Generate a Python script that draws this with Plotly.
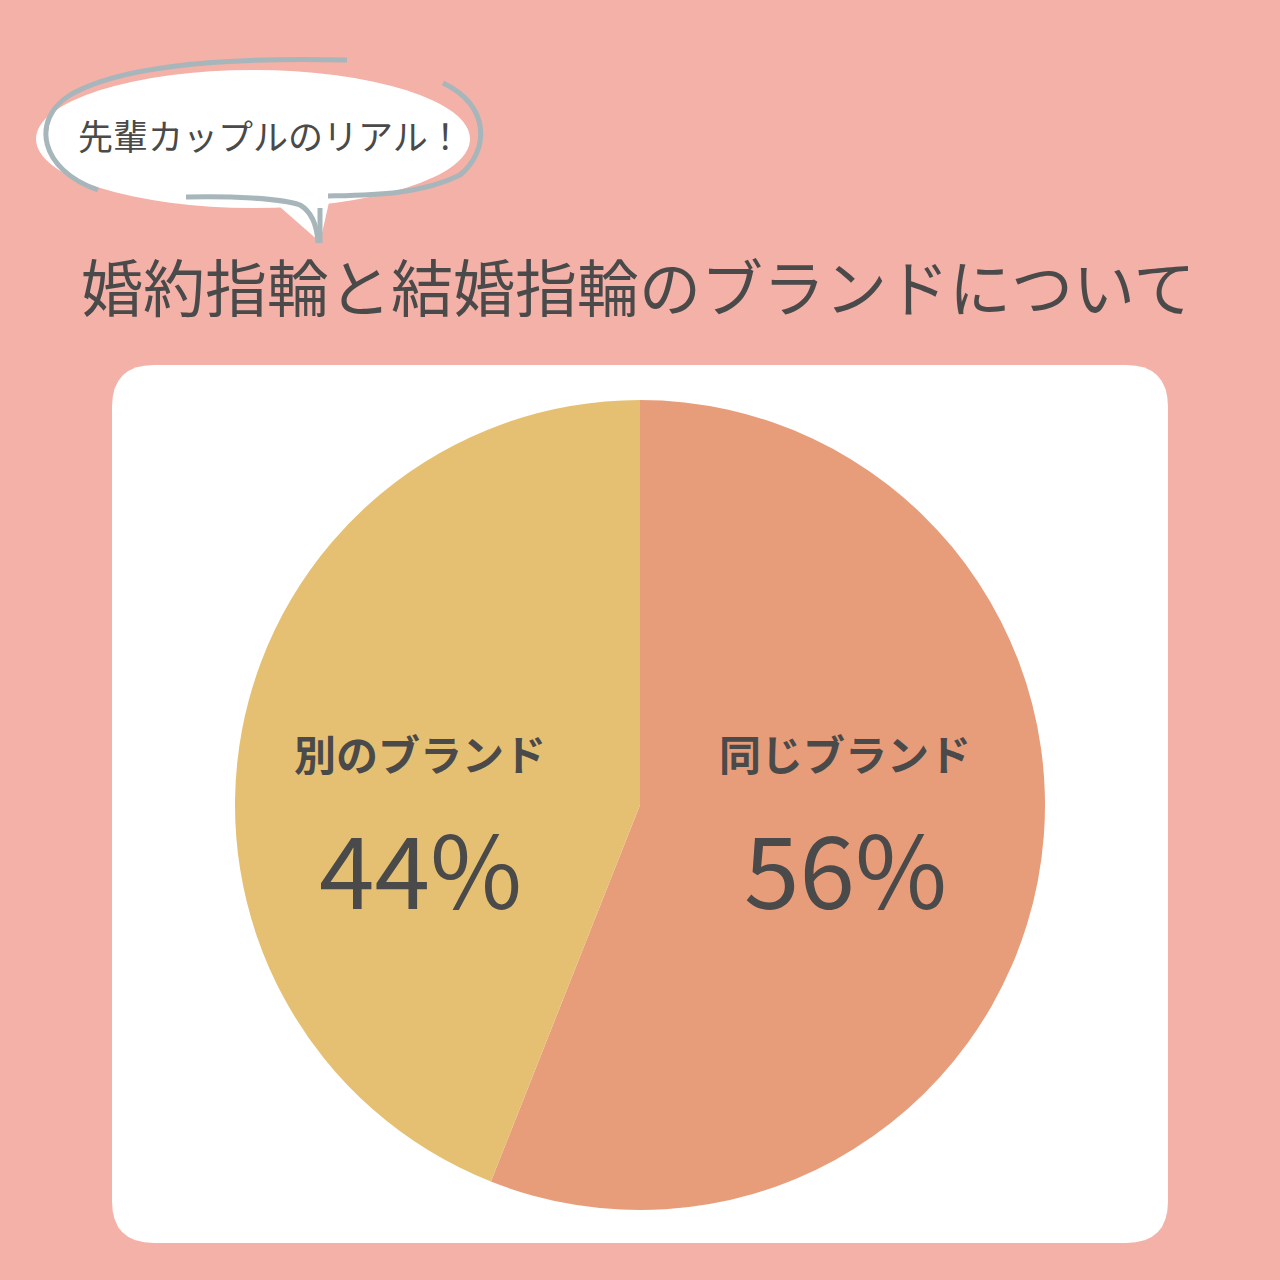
import plotly.graph_objects as go

# ---- data ----
labels = ["同じブランド", "別のブランド"]
values = [56, 44]
colors = ["#E89D7A", "#E6C072"]
title_text = "婚約指輪と結婚指輪のブランドについて"
bubble_text = "先輩カップルのリアル！"

W = H = 1280
BG = "#F3B1A8"
TXT = "#4A4A4A"
FONT = "Noto Sans CJK JP"


def px(x):
    return x / W


def py(y):
    return 1 - y / H


def path(cmds):
    out = []
    for c in cmds:
        if isinstance(c, str):
            out.append(c)
        else:
            out.append(f"{px(c[0]):.5f},{py(c[1]):.5f}")
    return " ".join(out)


fig = go.Figure()

# pie centred at (640, 805) with radius 405 px
cx, cy, r = 640, 805, 405
fig.add_trace(go.Pie(
    labels=labels,
    values=values,
    sort=False,
    direction="clockwise",
    rotation=0,
    marker=dict(colors=colors, line=dict(width=0)),
    textinfo="none",
    hoverinfo="label+percent",
    showlegend=False,
    domain=dict(x=[px(cx - r), px(cx + r)], y=[py(cy + r), py(cy - r)]),
))

shapes = []
# white rounded card
x0, y0, x1, y1, rr = 112, 365, 1168, 1243, 42
card = path([
    "M", (x0 + rr, y0), "L", (x1 - rr, y0), "Q", (x1, y0), (x1, y0 + rr),
    "L", (x1, y1 - rr), "Q", (x1, y1), (x1 - rr, y1),
    "L", (x0 + rr, y1), "Q", (x0, y1), (x0, y1 - rr),
    "L", (x0, y0 + rr), "Q", (x0, y0), (x0 + rr, y0), "Z"])
shapes.append(dict(type="path", xref="paper", yref="paper", path=card,
                   fillcolor="white", line=dict(width=0), layer="below"))

# speech bubble fill
shapes.append(dict(type="circle", xref="paper", yref="paper",
                   x0=px(36), x1=px(470), y0=py(208), y1=py(70),
                   fillcolor="white", line=dict(width=0), layer="below"))
tail = path(["M", (272, 200), "L", (330, 198), "L", (320, 242), "Z"])
shapes.append(dict(type="path", xref="paper", yref="paper", path=tail,
                   fillcolor="white", line=dict(width=0), layer="below"))

# sketchy gray outline strokes
GRAY = "#A7B6BB"
strokes = [
    ["M", (98, 190), "C", (40, 170), (30, 120), (70, 95),
     "C", (130, 60), (260, 58), (347, 60)],
    ["M", (443, 83), "C", (490, 105), (490, 150), (460, 175),
     "C", (420, 195), (370, 195), (328, 196)],
    ["M", (186, 197), "C", (230, 196), (280, 198), (300, 205),
     "C", (312, 212), (317, 225), (318, 243)],
    ["M", (320, 208), "L", (320, 243)],
]
for s in strokes:
    shapes.append(dict(type="path", xref="paper", yref="paper", path=path(s),
                       line=dict(color=GRAY, width=5), layer="below"))

annotations = []
annotations.append(dict(text=bubble_text, x=px(270), y=py(134), xref="paper", yref="paper",
                        showarrow=False, xanchor="center", yanchor="middle",
                        font=dict(family=FONT, size=35, color=TXT)))
annotations.append(dict(text=title_text, x=px(638), y=py(285), xref="paper", yref="paper",
                        showarrow=False, xanchor="center", yanchor="middle",
                        font=dict(family=FONT, size=62, color=TXT)))

label_pos = [(845, 752, 865), (420, 752, 865)]
for lab, val, (lx, ly, vy) in zip(labels, values, label_pos):
    annotations.append(dict(text=f"<b>{lab}</b>", x=px(lx), y=py(ly), xref="paper", yref="paper",
                            showarrow=False, xanchor="center", yanchor="middle",
                            font=dict(family=FONT, size=42, color=TXT)))
    annotations.append(dict(text=f"{val}%", x=px(lx), y=py(vy), xref="paper", yref="paper",
                            showarrow=False, xanchor="center", yanchor="middle",
                            font=dict(family=FONT, size=100, color=TXT)))

fig.update_layout(
    width=W, height=H,
    margin=dict(l=0, r=0, t=0, b=0),
    paper_bgcolor=BG, plot_bgcolor=BG,
    shapes=shapes, annotations=annotations,
)

fig.write_html("out.html")
